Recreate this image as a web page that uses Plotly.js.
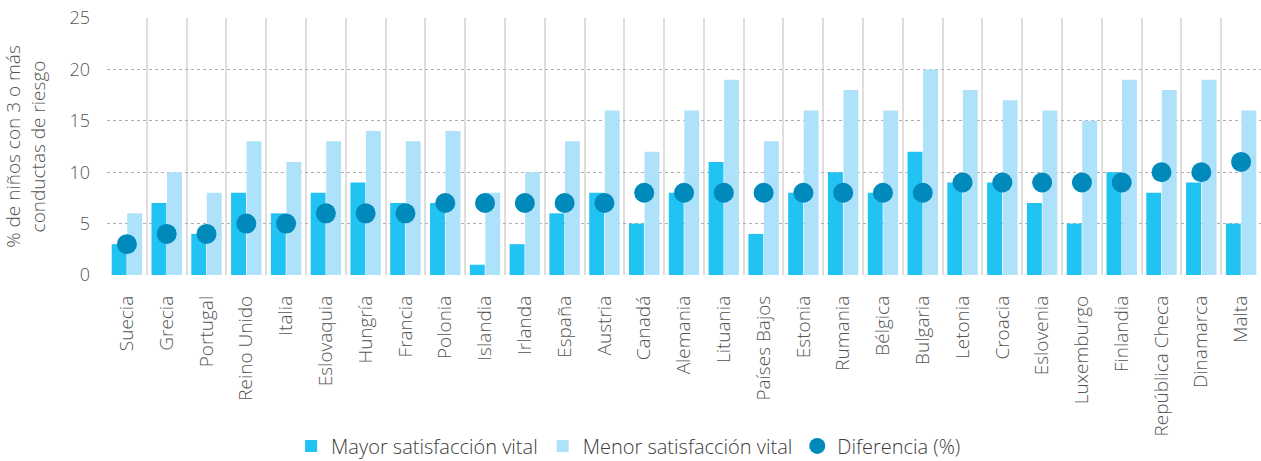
<!DOCTYPE html>
<html>
<head>
<meta charset="utf-8">
<script src="https://cdn.plot.ly/plotly-3.0.1.min.js"></script>
<style>
  html, body { margin: 0; padding: 0; background: #fff; }
  #chart { width: 1261px; height: 461px; }
</style>
</head>
<body>
<div id="chart"></div>
<script>
const countries = ["Suecia", "Grecia", "Portugal", "Reino Unido", "Italia", "Eslovaquia", "Hungría",
    "Francia", "Polonia", "Islandia", "Irlanda", "España", "Austria", "Canadá", "Alemania",
    "Lituania", "Países Bajos", "Estonia", "Rumania", "Bélgica", "Bulgaria", "Letonia", "Croacia",
    "Eslovenia", "Luxemburgo", "Finlandia", "República Checa", "Dinamarca", "Malta"];

const mayor_satisfaccion = [3, 7, 4, 8, 6, 8, 9, 7, 7, 1, 3, 6, 8, 5, 8, 11, 4, 8, 10, 8, 12, 9, 9, 7, 5, 10, 8, 9, 5];
const menor_satisfaccion = [6, 10, 8, 13, 11, 13, 14, 13, 14, 8, 10, 13, 16, 12, 16, 19, 13, 16, 18, 16, 20, 18, 17, 16, 15, 19, 18, 19, 16];
const diferencia = [3, 4, 4, 5, 5, 6, 6, 6, 7, 7, 7, 7, 7, 8, 8, 8, 8, 8, 8, 8, 8, 9, 9, 9, 9, 9, 10, 10, 11];

const y_ticks = [0, 5, 10, 15, 20, 25];

const font_family = "'Open Sans', 'DejaVu Sans', sans-serif";
const text_color = "#555555";

const data = [
    {
        name: "Mayor satisfacción vital",
        x: countries,
        y: mayor_satisfaccion,
        type: "bar",
        marker: { color: "#21c3f3" },
        hoverinfo: "x+y",
    },
    {
        name: "Menor satisfacción vital",
        x: countries,
        y: menor_satisfaccion,
        type: "bar",
        marker: { color: "#aee1fa" },
        hoverinfo: "x+y",
    },
    {
        name: "Diferencia (%)",
        x: countries,
        y: diferencia,
        type: "scatter",
        mode: "markers",
        marker: { color: "#0089bb", size: 20 },
    },
];

const layout = {
    width: 1261,
    height: 461,
    margin: { l: 107, r: 0, t: 18, b: 186, pad: 0, autoexpand: false },
    paper_bgcolor: "#fff",
    plot_bgcolor: "#fff",
    font: { family: font_family, color: text_color, size: 19, weight: 300 },
    barmode: "group",
    bargap: 0.22,
    bargroupgap: 0.04,
    showlegend: true,
    legend: {
        orientation: "h",
        x: 0.452,
        xanchor: "center",
        y: -0.665,
        yanchor: "middle",
        font: { size: 20, color: "#3c3c3c" },
        itemwidth: 30,
        traceorder: "normal",
    },
    xaxis: {
        type: "category",
        automargin: false,
        range: [-0.5, countries.length - 0.5],
        tickson: "boundaries",
        showgrid: true,
        gridcolor: "#dedede",
        gridwidth: 1.6,
        tickangle: -90,
        ticks: "",
        ticklabelstandoff: 16,
        showline: false,
        zeroline: false,
        tickfont: { size: 19, color: text_color },
    },
    yaxis: {
        automargin: false,
        title: {
            text: "% de niños con 3 o más<br>conductas de riesgo",
            font: { size: 19, color: text_color },
            standoff: 22,
        },
        range: [0, 25],
        tickvals: y_ticks,
        showgrid: true,
        gridcolor: "#b0b0b0",
        griddash: "dot",
        gridwidth: 1.4,
        zeroline: false,
        showline: false,
        ticks: "",
        ticklabelstandoff: 16,
        tickfont: { size: 18, color: text_color },
    },
};

Plotly.newPlot("chart", data, layout, { displayModeBar: false, responsive: false });
</script>
</body>
</html>
